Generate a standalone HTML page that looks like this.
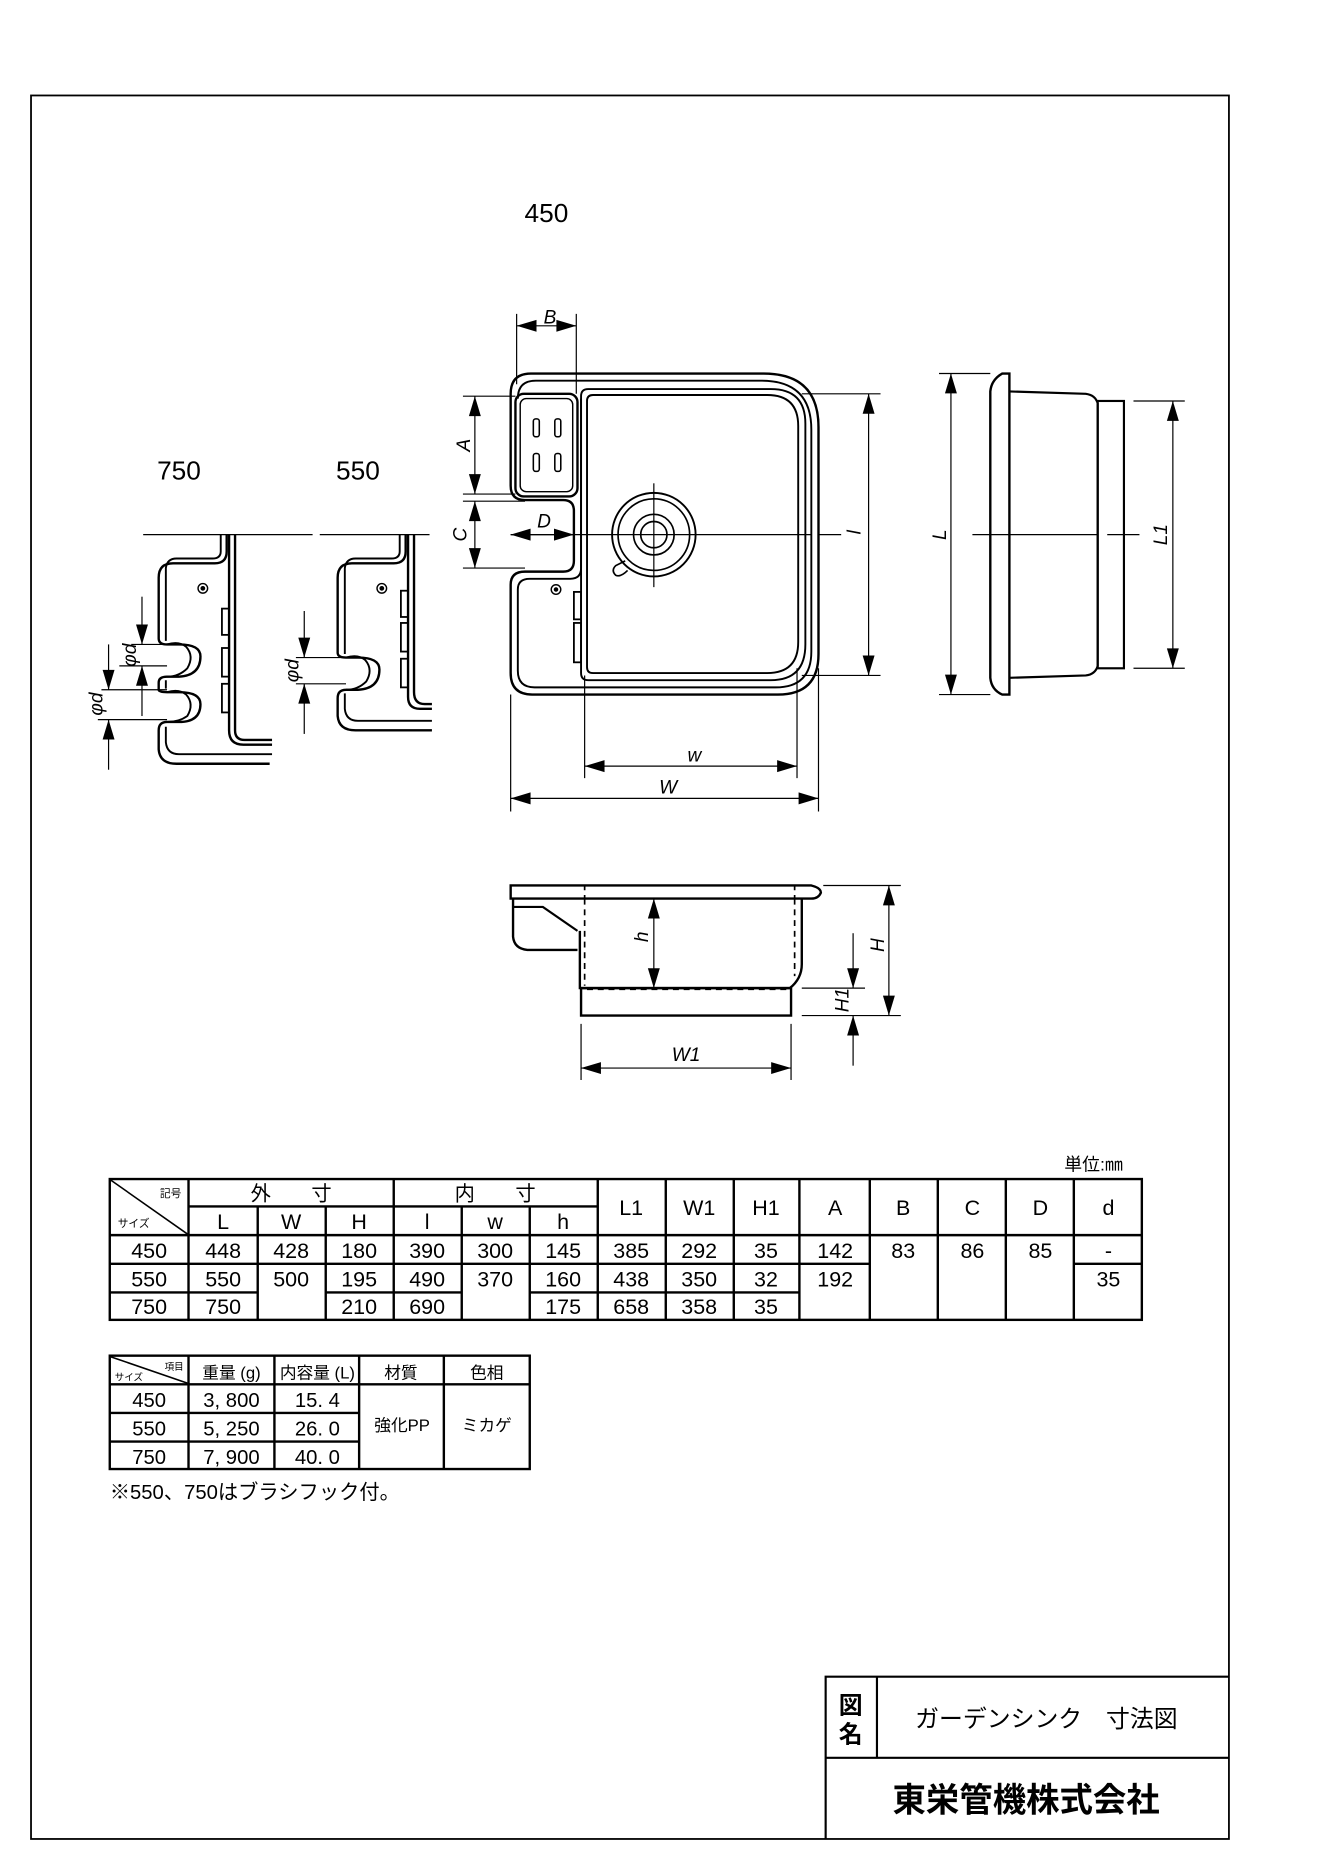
<!DOCTYPE html>
<html><head><meta charset="utf-8"><style>
html,body{margin:0;padding:0;background:#fff;}
svg{display:block;}
text{font-family:"Liberation Sans","Noto Sans CJK JP",sans-serif;fill:#000;}
</style></head><body>
<svg width="1322" height="1870" viewBox="0 0 1108 1567" preserveAspectRatio="none" xmlns="http://www.w3.org/2000/svg">
<defs>
<marker id="a" markerUnits="userSpaceOnUse" markerWidth="20" markerHeight="20" refX="0" refY="0" orient="auto-start-reverse" viewBox="-16 -6 18 12" overflow="visible">
<path d="M0,0 L-15,-4.5 L-15,4.5 Z" fill="#000"/>
</marker>
</defs>
<rect x="0" y="0" width="1108" height="1567" fill="#fff"/>
<rect x="26" y="80" width="1004" height="1461" fill="none" stroke="#000" stroke-width="1.5"/>

<text x="458" y="186" font-size="22" text-anchor="middle">450</text>
<text x="150" y="402" font-size="22" text-anchor="middle">750</text>
<text x="300" y="402" font-size="22" text-anchor="middle">550</text>

<g fill="none" stroke="#000">
<path stroke-width="2" d="M428,330 Q428,313 445,313 L640,313 Q686,313 686,358 L686,548 Q686,582 652,582 L446,582 Q428,582 428,564 L428,490 Q428,479 440,479 L472,479 Q481,479 481,470 L481,428 Q481,419 472,419 L440,419 Q428,419 428,407 Z"/>
<path stroke-width="1.6" d="M434,334 Q434,319 449,319 L638,319 Q680,319 680,360 L680,546 Q680,576 650,576 L448,576 Q434,576 434,562 L434,494 Q434,485 444,485 L478,485 Q487,485 487,476 L487,334"/>
<rect x="432" y="330" width="52" height="86" rx="7" stroke-width="2"/>
<rect x="436" y="334" width="44" height="78" rx="5" stroke-width="1.2"/>
<rect x="447" y="351" width="5" height="15" rx="2" stroke-width="1.3"/>
<rect x="465" y="351" width="5" height="15" rx="2" stroke-width="1.3"/>
<rect x="447" y="380" width="5" height="15" rx="2" stroke-width="1.3"/>
<rect x="465" y="380" width="5" height="15" rx="2" stroke-width="1.3"/>
<path stroke-width="1.6" d="M487,332 Q487,326 493,326 L646,326 Q675,326 675,355 L675,540 Q675,570 646,570 L493,570 Q487,570 487,564 Z"/>
<path stroke-width="1.6" d="M492,336 Q492,331 497,331 L643,331 Q669,331 669,357 L669,538 Q669,564 643,564 L497,564 Q492,564 492,559 Z"/>
<circle cx="548" cy="448" r="35" stroke-width="1.6"/>
<circle cx="548" cy="448" r="30" stroke-width="1.4"/>
<circle cx="548" cy="448" r="17" stroke-width="1.4"/>
<circle cx="548" cy="448" r="11" stroke-width="1.4"/>
<path stroke-width="1.4" d="M524,470 L516,474 Q512,478 516,482 Q520,484 526,478"/>
<circle cx="466" cy="494" r="4" stroke-width="1.2"/>
<circle cx="466" cy="494" r="1.5" fill="#000" stroke-width="0.8"/>
<rect x="481" y="496" width="6" height="23" stroke-width="1.5"/>
<rect x="481" y="522" width="6" height="33" stroke-width="1.5"/>
<path stroke-width="1" d="M428,448 L680,448 M686,448 L705,448"/>
<path stroke-width="1" d="M548,405 L548,492"/>
<path stroke-width="1" d="M433,263 L433,322 M483,263 L483,330"/>
<line x1="433" y1="273" x2="483" y2="273" stroke-width="1" marker-start="url(#a)" marker-end="url(#a)"/>
<path stroke-width="1" d="M388,332 L432,332 M388,414 L432,414 M388,420 L440,420 M388,476 L440,476"/>
<line x1="398" y1="332" x2="398" y2="414" stroke-width="1" marker-start="url(#a)" marker-end="url(#a)"/>
<line x1="398" y1="420" x2="398" y2="476" stroke-width="1" marker-start="url(#a)" marker-end="url(#a)"/>
<line x1="428" y1="448" x2="481" y2="448" stroke-width="1" marker-start="url(#a)" marker-end="url(#a)"/>
<path stroke-width="1" d="M672,330 L738,330 M672,566 L738,566"/>
<line x1="728" y1="330" x2="728" y2="566" stroke-width="1" marker-start="url(#a)" marker-end="url(#a)"/>
<path stroke-width="1" d="M490,566 L490,652 M668,560 L668,652 M428,582 L428,680 M686,560 L686,680"/>
<line x1="490" y1="642" x2="668" y2="642" stroke-width="1" marker-start="url(#a)" marker-end="url(#a)"/>
<line x1="428" y1="669" x2="686" y2="669" stroke-width="1" marker-start="url(#a)" marker-end="url(#a)"/>

<path stroke-width="2" d="M846,313 L846,582 L840,582 Q831,578 830,568 L830,328 Q831,318 840,313 Z"/>
<path stroke-width="1.8" d="M846,328 L910,330 Q918,331 920,338 L920,558 Q918,565 910,566 L846,568"/>
<rect x="920" y="336" width="22" height="224" stroke-width="1.8"/>
<path stroke-width="1" d="M787,313 L830,313 M787,582 L830,582 M950,336 L993,336 M950,560 L993,560"/>
<line x1="797" y1="313" x2="797" y2="582" stroke-width="1" marker-start="url(#a)" marker-end="url(#a)"/>
<line x1="983" y1="336" x2="983" y2="560" stroke-width="1" marker-start="url(#a)" marker-end="url(#a)"/>
<path stroke-width="1" d="M815,448 L920,448 M928,448 L955,448"/>

<path stroke-width="2" d="M428,742 L680,742 Q688,744 688,748 Q686,753 680,753 L428,753 Z"/>
<path stroke-width="2" d="M430,753 L430,785 Q431,795 442,796 L484,796"/>
<path stroke-width="1.8" d="M430,760 L455,760 L484,780"/>
<path stroke-width="2" d="M486,780 L486,828 L662,828 Q672,820 672,808 L672,753"/>
<rect x="487" y="828" width="176" height="23" stroke-width="2"/>
<path stroke-width="1.4" stroke-dasharray="5,4" d="M490,753 L490,826 M666,753 L666,818 M492,829 L660,829"/>
<path stroke-width="1.4" stroke-dasharray="4,4" d="M490,742 L490,753 M666,742 L666,753"/>
<line x1="548" y1="753" x2="548" y2="828" stroke-width="1" marker-start="url(#a)" marker-end="url(#a)"/>
<path stroke-width="1" d="M690,742 L755,742 M672,851 L755,851 M672,828 L725,828"/>
<line x1="745" y1="742" x2="745" y2="851" stroke-width="1" marker-start="url(#a)" marker-end="url(#a)"/>
<line x1="715" y1="782" x2="715" y2="828" stroke-width="1" marker-end="url(#a)"/>
<line x1="715" y1="893" x2="715" y2="851" stroke-width="1" marker-end="url(#a)"/>
<path stroke-width="1" d="M487,858 L487,905 M663,858 L663,905"/>
<line x1="487" y1="895" x2="663" y2="895" stroke-width="1" marker-start="url(#a)" marker-end="url(#a)"/>

<path stroke-width="1" d="M120,448 L262,448 M268,448 L360,448"/>
<path stroke-width="2" d="M190,448 L190,462 Q190,472 180,472 L145,472 Q133,472 133,484 L133,535 Q133,540 140,540 L150,540 Q168,540 168,550 Q168,566 150,567 L140,567 Q133,567 133,572 L133,578 Q133,580 140,580 L150,580 Q168,580 168,590 Q168,605 150,605 L140,605 Q133,605 133,612 L133,628 Q134,640 148,640 L226,640"/>
<path stroke-width="1.6" d="M185,448 L185,462 Q185,468 178,468 L148,468 Q140,468 139,476 L139,537 M139,570 L139,577 M139,609 L139,622 Q140,632 150,632 L228,632"/>
<path stroke-width="1.6" d="M140,540 Q150,537 156,542 Q163,550 157,560 Q150,567 140,567 M140,580 Q150,577 156,582 Q163,590 157,600 Q150,605 140,605"/>
<path stroke-width="2" d="M192,448 L192,612 Q192,624 204,624 L228,624 M197,448 L197,612 Q197,620 205,620 L228,620"/>
<circle cx="170" cy="493" r="4" stroke-width="1.2"/>
<circle cx="170" cy="493" r="1.5" fill="#000"/>
<rect x="186" y="510" width="6" height="22" stroke-width="1.5"/>
<rect x="186" y="543" width="6" height="24" stroke-width="1.5"/>
<rect x="186" y="573" width="6" height="24" stroke-width="1.5"/>
<path stroke-width="1" d="M110,540 L140,540 M100,558 L140,558 M85,578 L140,578 M82,603 L140,603"/>
<line x1="119" y1="500" x2="119" y2="540" stroke-width="1" marker-end="url(#a)"/>
<line x1="119" y1="600" x2="119" y2="558" stroke-width="1" marker-end="url(#a)"/>
<line x1="91" y1="540" x2="91" y2="578" stroke-width="1" marker-end="url(#a)"/>
<line x1="91" y1="645" x2="91" y2="603" stroke-width="1" marker-end="url(#a)"/>
<path stroke-width="2" d="M340,448 L340,462 Q340,472 330,472 L295,472 Q283,472 283,484 L283,547 Q283,551 290,551 L300,551 Q318,551 318,561 Q318,577 300,578 L290,578 Q283,578 283,585 L283,600 Q284,612 298,612 L362,612"/>
<path stroke-width="1.6" d="M335,448 L335,462 Q335,468 328,468 L298,468 Q290,468 289,476 L289,548 M289,581 L289,594 Q290,604 300,604 L362,604 M290,551 Q300,548 306,553 Q313,561 307,571 Q300,578 290,578"/>
<path stroke-width="2" d="M342,448 L342,584 Q342,594 352,594 L362,594 M347,448 L347,580 Q347,590 356,590 L362,590"/>
<circle cx="320" cy="493" r="4" stroke-width="1.2"/>
<circle cx="320" cy="493" r="1.5" fill="#000"/>
<rect x="336" y="495" width="6" height="22" stroke-width="1.5"/>
<rect x="336" y="522" width="6" height="24" stroke-width="1.5"/>
<rect x="336" y="552" width="6" height="24" stroke-width="1.5"/>
<path stroke-width="1" d="M248,551 L290,551 M248,573 L290,573"/>
<line x1="255" y1="512" x2="255" y2="551" stroke-width="1" marker-end="url(#a)"/>
<line x1="255" y1="615" x2="255" y2="573" stroke-width="1" marker-end="url(#a)"/>
</g>

<g font-size="16" font-style="italic">
<text x="461" y="271" text-anchor="middle">B</text>
<text transform="translate(394,373) rotate(-90)" text-anchor="middle">A</text>
<text transform="translate(391,448) rotate(-90)" text-anchor="middle">C</text>
<text x="456" y="442" text-anchor="middle">D</text>
<text transform="translate(721,446) rotate(-90)" text-anchor="middle">l</text>
<text x="582" y="638" text-anchor="middle">w</text>
<text x="560" y="665" text-anchor="middle">W</text>
<text transform="translate(793,448) rotate(-90)" text-anchor="middle">L</text>
<text transform="translate(978,448) rotate(-90)" text-anchor="middle">L1</text>
<text transform="translate(543,785) rotate(-90)" text-anchor="middle">h</text>
<text transform="translate(741,792) rotate(-90)" text-anchor="middle">H</text>
<text transform="translate(711,838) rotate(-90)" text-anchor="middle">H1</text>
<text x="575" y="889" text-anchor="middle">W1</text>
<text transform="translate(114,549) rotate(-90)" text-anchor="middle">φd</text>
<text transform="translate(86,590) rotate(-90)" text-anchor="middle">φd</text>
<text transform="translate(250,562) rotate(-90)" text-anchor="middle">φd</text>
</g>

<text x="892" y="981" font-size="15">単位:㎜</text>
<g fill="none" stroke="#000" stroke-width="2">
<rect x="92" y="988" width="865" height="118"/>
<path d="M92,1035 L957,1035 M158,1011 L501,1011"/>
<path d="M158,988 L158,1106 M216,1011 L216,1106 M273,1011 L273,1106 M330,988 L330,1106 M387,1011 L387,1106 M444,1011 L444,1106 M501,988 L501,1106 M558,988 L558,1106 M615,988 L615,1106 M670,988 L670,1106 M729,988 L729,1106 M786,988 L786,1106 M843,988 L843,1106 M900,988 L900,1106"/>
<path d="M92,1059 L729,1059 M900,1059 L957,1059"/>
<path d="M92,1083 L216,1083 M273,1083 L387,1083 M444,1083 L670,1083"/>
<path stroke-width="1.3" d="M93,989 L157,1034"/>
</g>
<g font-size="18" text-anchor="middle">
<text x="143" y="1003" font-size="9">記号</text>
<text x="112" y="1028" font-size="9">サイズ</text>
<text x="244" y="1006" font-size="17">外　　寸</text>
<text x="415" y="1006" font-size="17">内　　寸</text>
<text x="187" y="1030">L</text><text x="244" y="1030">W</text><text x="301" y="1030">H</text>
<text x="358" y="1030">l</text><text x="415" y="1030">w</text><text x="472" y="1030">h</text>
<text x="529" y="1018">L1</text><text x="586" y="1018">W1</text><text x="642" y="1018">H1</text>
<text x="700" y="1018">A</text><text x="757" y="1018">B</text><text x="815" y="1018">C</text>
<text x="872" y="1018">D</text><text x="929" y="1018">d</text>
<text x="125" y="1054">450</text><text x="187" y="1054">448</text><text x="244" y="1054">428</text><text x="301" y="1054">180</text><text x="358" y="1054">390</text><text x="415" y="1054">300</text><text x="472" y="1054">145</text><text x="529" y="1054">385</text><text x="586" y="1054">292</text><text x="642" y="1054">35</text><text x="700" y="1054">142</text><text x="757" y="1054">83</text><text x="815" y="1054">86</text><text x="872" y="1054">85</text><text x="929" y="1054">-</text>
<text x="125" y="1078">550</text><text x="187" y="1078">550</text><text x="244" y="1078">500</text><text x="301" y="1078">195</text><text x="358" y="1078">490</text><text x="415" y="1078">370</text><text x="472" y="1078">160</text><text x="529" y="1078">438</text><text x="586" y="1078">350</text><text x="642" y="1078">32</text><text x="700" y="1078">192</text><text x="929" y="1078">35</text>
<text x="125" y="1101">750</text><text x="187" y="1101">750</text><text x="301" y="1101">210</text><text x="358" y="1101">690</text><text x="472" y="1101">175</text><text x="529" y="1101">658</text><text x="586" y="1101">358</text><text x="642" y="1101">35</text>
</g>

<g fill="none" stroke="#000" stroke-width="2">
<rect x="92" y="1136" width="352" height="95"/>
<path d="M92,1160 L444,1160 M92,1184 L301,1184 M92,1208 L301,1208"/>
<path d="M158,1136 L158,1231 M230,1136 L230,1231 M301,1136 L301,1231 M372,1136 L372,1231"/>
<path stroke-width="1.3" d="M93,1137 L157,1159"/>
</g>
<g font-size="17" text-anchor="middle">
<text x="146" y="1148" font-size="8">項目</text>
<text x="108" y="1157" font-size="8">サイズ</text>
<text x="194" y="1155" font-size="14">重量 (g)</text>
<text x="266" y="1155" font-size="14">内容量 (L)</text>
<text x="336" y="1155" font-size="14">材質</text>
<text x="408" y="1155" font-size="14">色相</text>
<text x="125" y="1179">450</text><text x="194" y="1179">3, 800</text><text x="266" y="1179">15. 4</text>
<text x="125" y="1203">550</text><text x="194" y="1203">5, 250</text><text x="266" y="1203">26. 0</text>
<text x="125" y="1227">750</text><text x="194" y="1227">7, 900</text><text x="266" y="1227">40. 0</text>
<text x="337" y="1199" font-size="14">強化PP</text>
<text x="408" y="1199" font-size="14">ミカゲ</text>
</g>
<text x="92" y="1256" font-size="17">※550、750はブラシフック付。</text>

<g fill="none" stroke="#000" stroke-width="1.8">
<path d="M692,1541 L692,1405 L1030,1405 M692,1473 L1030,1473 M735,1405 L735,1473"/>
</g>
<text x="713" y="1436" font-size="20" font-weight="bold" text-anchor="middle">図</text>
<text x="713" y="1460" font-size="20" font-weight="bold" text-anchor="middle">名</text>
<text x="877" y="1447" font-size="20" text-anchor="middle">ガーデンシンク　寸法図</text>
<text x="860" y="1518" font-size="28" font-weight="bold" text-anchor="middle">東栄管機株式会社</text>
</svg>
</body></html>
